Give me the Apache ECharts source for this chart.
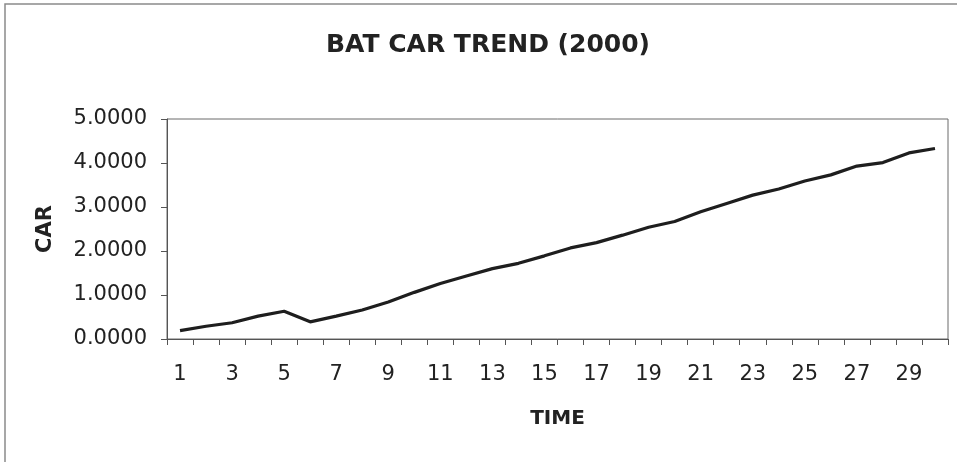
<!DOCTYPE html>
<html>
<head>
<meta charset="utf-8">
<script src="https://cdn.jsdelivr.net/npm/echarts@6/dist/echarts.min.js"></script>
<style>
  html, body { margin: 0; padding: 0; background: #fff; }
  #chart { width: 957px; height: 462px; }
</style>
</head>
<body>
<div id="chart"></div>
<script>
// Time periods 1..30 on the horizontal axis
const timeLabels = ['1','2','3','4','5','6','7','8','9','10',
                    '11','12','13','14','15','16','17','18','19','20',
                    '21','22','23','24','25','26','27','28','29','30'];

// Cumulative abnormal return (CAR) per period
const carValues = [0.19, 0.29, 0.37, 0.52, 0.63, 0.39, 0.52, 0.66, 0.84, 1.06,
                   1.26, 1.43, 1.60, 1.72, 1.89, 2.07, 2.19, 2.36, 2.54, 2.67,
                   2.89, 3.08, 3.27, 3.41, 3.59, 3.73, 3.93, 4.01, 4.23, 4.33];

// Value axis range and step
const yMin = 0;
const yMax = 5;
const yStep = 1;

const chartTitle = 'BAT CAR TREND (2000)';
const xName = 'TIME';
const yName = 'CAR';

const textColor = '#222';
const font = 'DejaVu Sans';

const chart = echarts.init(document.getElementById('chart'), null, { renderer: 'canvas' });

chart.setOption({
  backgroundColor: '#fff',
  animation: false,
  title: {
    text: chartTitle,
    left: 483,
    textAlign: 'center',
    top: 28,
    textStyle: { fontFamily: font, fontWeight: 'bold', fontSize: 25, color: textColor }
  },
  graphic: [
    {
      // outer frame around the chart sheet
      type: 'rect',
      silent: true,
      shape: { x: 5, y: 4, width: 1000, height: 500 },
      style: { fill: 'none', stroke: '#8a8a8a', lineWidth: 1.5 }
    }
  ],
  grid: {
    left: 167, right: 9, top: 119, bottom: 123,
    show: true,
    borderColor: '#6a6a6a',
    borderWidth: 1,
    backgroundColor: '#fff'
  },
  xAxis: {
    type: 'category',
    data: timeLabels,
    boundaryGap: true,
    name: xName,
    nameLocation: 'middle',
    nameGap: 70,
    nameTextStyle: { fontFamily: font, fontWeight: 'bold', fontSize: 20, color: textColor },
    axisLine: { lineStyle: { color: '#555', width: 1 } },
    axisTick: { show: true, interval: 0, inside: false, length: 6, lineStyle: { color: '#555' } },
    axisLabel: { interval: 1, margin: 25, fontFamily: font, fontSize: 21, color: textColor },
    splitLine: { show: false }
  },
  yAxis: {
    type: 'value',
    min: yMin,
    max: yMax,
    interval: yStep,
    name: yName,
    nameLocation: 'middle',
    nameGap: 111,
    nameRotate: 90,
    nameTextStyle: { fontFamily: font, fontWeight: 'bold', fontSize: 21, color: textColor },
    axisLine: { show: true, lineStyle: { color: '#555', width: 1 } },
    axisTick: { show: true, inside: false, length: 6, lineStyle: { color: '#555' } },
    axisLabel: {
      margin: 20,
      fontFamily: font,
      fontSize: 21,
      color: textColor,
      formatter: v => v.toFixed(4)
    },
    splitLine: { show: false }
  },
  series: [
    {
      type: 'line',
      data: carValues,
      symbol: 'none',
      smooth: false,
      lineStyle: { color: '#1e1e1e', width: 3.2 }
    }
  ]
});
</script>
</body>
</html>
